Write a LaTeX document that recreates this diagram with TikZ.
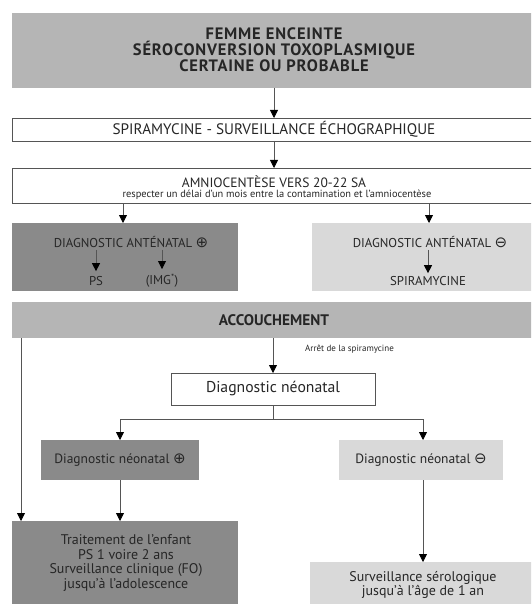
\documentclass[tikz,border=0pt]{standalone}
\usepackage{fontspec}
\setmainfont{PT Sans}
\newfontfamily\symboles{DejaVu Sans}
\usetikzlibrary{arrows.meta}

\definecolor{grismoyen}{HTML}{B5B5B5}
\definecolor{grisfonce}{HTML}{8A8A8A}
\definecolor{grisclair}{HTML}{D9D9D9}
\definecolor{gristrait}{HTML}{555555}

\newcommand{\positif}{{\symboles\fontsize{15}{15}\selectfont ⊕}}
\newcommand{\negatif}{{\symboles\fontsize{15}{15}\selectfont ⊖}}

\tikzset{
  boite/.style={anchor=north west, inner sep=0pt, outer sep=0pt},
  cadre/.style={boite, draw=gristrait, line width=0.8pt, fill=white},
  fleche/.style={draw=gristrait, line width=0.8pt, -{Triangle[width=8pt,length=8pt,color=black]}},
  trait/.style={draw=gristrait, line width=0.8pt},
  texte/.style={inner sep=0pt, align=center, text=black!85},
}

\begin{document}
\begin{tikzpicture}[x=1pt, y=-1pt, font=\fontsize{13.5}{15}\selectfont]
\clip (0,0) rectangle (531,604);

%________________________________________________%
\node[boite, fill=grismoyen, minimum width=524pt, minimum height=75pt] (femme) at (12,13) {};
\node[texte, font=\fontsize{16.5}{16}\selectfont\bfseries\addfontfeatures{LetterSpace=5}] (femmetxt) at (274,50)
  {FEMME ENCEINTE\\SÉROCONVERSION TOXOPLASMIQUE\\CERTAINE OU PROBABLE};
%________________________________________________%
\node[cadre, minimum width=524pt, minimum height=23pt] (spira) at (12,118) {};
\node[texte, font=\fontsize{15.2}{15}\selectfont] (spiratxt) at (274,129.5)
  {SPIRAMYCINE - SURVEILLANCE ÉCHOGRAPHIQUE};
%________________________________________________%
\node[cadre, minimum width=524pt, minimum height=35pt] (amnio) at (12,168) {};
\node[texte, font=\fontsize{13.5}{14}\selectfont] (amniotxt) at (274,182)
  {AMNIOCENTÈSE VERS 20-22 SA};
\node[texte, font=\fontsize{10.4}{10}\selectfont] (amniosous) at (277,195)
  {respecter un délai d'un mois entre la contamination et l'amniocentèse};
%________________________________________________%
\node[boite, fill=grisfonce, minimum width=226pt, minimum height=68pt] (antepos) at (12,223) {};
\node[texte, font=\fontsize{12.8}{14}\selectfont] (anteposttxt) at (131,242) {DIAGNOSTIC ANTÉNATAL \positif};
\node[texte, font=\fontsize{12.8}{14}\selectfont] (ps) at (96,281) {PS};
\node[texte, font=\fontsize{12.8}{14}\selectfont] (img) at (162,281) {(IMG\textsuperscript{*})};
%________________________________________________%
\node[boite, fill=grisclair, minimum width=226pt, minimum height=68pt] (anteneg) at (312,223) {};
\node[texte, font=\fontsize{12.8}{14}\selectfont] (antenegtxt) at (430,242) {DIAGNOSTIC ANTÉNATAL \negatif};
\node[texte, font=\fontsize{12.8}{14}\selectfont] (spiradeux) at (428,281) {SPIRAMYCINE};
%________________________________________________%
\node[boite, fill=grismoyen, minimum width=524pt, minimum height=36pt] (accouch) at (12,302) {};
\node[texte, font=\fontsize{15.3}{16}\selectfont\bfseries] (accouchtxt) at (274,320) {ACCOUCHEMENT};
\node[texte, anchor=west, font=\fontsize{9}{10}\selectfont] (arret) at (305,349) {Arrêt de la spiramycine};
%________________________________________________%
\node[cadre, minimum width=204pt, minimum height=32pt] (neo) at (171,373) {};
\node[texte, font=\fontsize{15.7}{16}\selectfont] (neotxt) at (273,389) {Diagnostic néonatal};
\coordinate (fourche) at (273,419);
%________________________________________________%
\node[boite, fill=grisfonce, minimum width=158pt, minimum height=40pt] (neopos) at (41,440) {};
\node[texte] (neopostxt) at (120,460) {Diagnostic néonatal \positif};
\node[boite, fill=grisclair, minimum width=164pt, minimum height=40pt] (neoneg) at (339,440) {};
\node[texte] (neonegtxt) at (421,460) {Diagnostic néonatal \negatif};
%________________________________________________%
\node[boite, fill=grisfonce, minimum width=226pt, minimum height=90pt] (traitement) at (12,521) {};
\node[texte, font=\fontsize{14}{14.7}\selectfont] (traitementtxt) at (126,563)
  {Traitement de l’enfant\\PS 1 voire 2 ans\\Surveillance clinique (FO)\\jusqu’à l’adolescence};
\node[boite, fill=grisclair, minimum width=226pt, minimum height=50pt] (serologie) at (310,562) {};
\node[texte, font=\fontsize{14}{14.5}\selectfont] (serologietxt) at (423,585)
  {Surveillance sérologique\\jusqu’à l’âge de 1 an};
%________________________________________________%
\draw[fleche] (femme.south -| femmetxt) -- (spira.north -| femmetxt);
\draw[fleche] (spira.south -| femmetxt) -- (amnio.north -| femmetxt);
\draw[fleche] (amnio.south -| 123,0) -- (antepos.north -| 123,0);
\draw[fleche] (amnio.south -| 429,0) -- (anteneg.north -| 429,0);
\draw[fleche] (anteposttxt.south -| ps) ++(0,2) -- ([yshift=5pt]ps.north);
\draw[fleche] (anteposttxt.south -| img) ++(0,2) -- ([yshift=5pt]img.north);
\draw[fleche] (antenegtxt.south -| spiradeux) ++(0,2) -- ([yshift=3pt]spiradeux.north);
%________________________________________________%
\draw[fleche] (accouch.south -| neotxt) -- (neo.north);
\draw[trait] (neo.south) -- (fourche);
\draw[fleche] (fourche) -| (neopos.north);
\draw[fleche] (fourche) -| ([xshift=2pt]neoneg.north);
\draw[fleche] (neopos.south) -- (traitement.north -| neopos.south);
\draw[fleche] (accouch.south -| 21,0) -- (traitement.north -| 21,0);
\draw[fleche] ([xshift=2pt]neoneg.south) -- (serologie.north -| 423,0);
\end{tikzpicture}
\end{document}
